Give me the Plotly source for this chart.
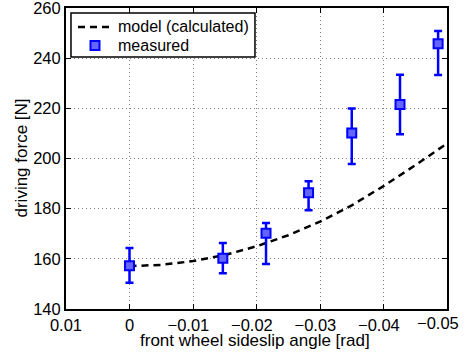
import plotly.graph_objects as go

# Model (calculated) curve
model_x = [0.0, -0.005, -0.01, -0.015, -0.02, -0.025, -0.03, -0.035, -0.04, -0.045, -0.05]
model_y = [157.1, 157.6, 159.1, 161.5, 165.0, 169.4, 174.8, 181.3, 189.0, 197.3, 206.0]

# Measured points with error bars
meas_x = [0.0, -0.0147, -0.0215, -0.0282, -0.035, -0.0426, -0.0486]
meas_y = [157.2, 160.2, 170.2, 186.3, 210.2, 221.5, 245.7]
err_hi = [164.3, 166.3, 174.3, 190.9, 219.9, 233.4, 250.8]
err_lo = [150.5, 154.3, 157.9, 179.4, 197.8, 209.7, 233.3]

x_ticks = [0.01, 0, -0.01, -0.02, -0.03, -0.04, -0.05]
x_ticktext = ["0.01", "0", "\u22120.01", "\u22120.02", "\u22120.03", "\u22120.04", "\u22120.05"]
y_ticks = [140, 160, 180, 200, 220, 240, 260]

legend_labels = ["model (calculated)", "measured"]
x_title = "front wheel sideslip angle [rad]"
y_title = "driving force [N]"

FONT = "Liberation Sans, Arial, Helvetica, sans-serif"
BLUE = "rgb(0,0,255)"
FILL = "rgb(100,100,255)"
FS = "\u2007"  # figure space: shifts negative labels left like the original

# Axis tick texts: negative labels padded; the last one drawn as annotation so it stays inside
shown_ticktext = [t + FS if t.startswith("\u2212") else t for t in x_ticktext]
shown_ticktext[-1] = ""

fig = go.Figure()
fig.add_trace(go.Scatter(
    x=model_x, y=model_y, mode="lines", name=legend_labels[0],
    line=dict(color="black", width=2.5, dash="7px,5px"), showlegend=False,
))
fig.add_trace(go.Scatter(
    x=meas_x, y=meas_y, mode="markers", name=legend_labels[1],
    marker=dict(symbol="square", size=9, color=FILL, line=dict(color=BLUE, width=2)),
    error_y=dict(type="data", symmetric=False,
                 array=[h - m for h, m in zip(err_hi, meas_y)],
                 arrayminus=[m - l for m, l in zip(meas_y, err_lo)],
                 color=BLUE, thickness=2.5, width=4),
    showlegend=False,
))

axis_common = dict(
    showline=True, linecolor="black", linewidth=2, mirror="ticks",
    ticks="inside", ticklen=5, tickcolor="black", tickwidth=1,
    showgrid=True, gridcolor="rgba(0,0,0,0.5)", gridwidth=1, griddash="1px,3px",
    zeroline=False, automargin=False, ticklabeloverflow="allow",
    tickfont=dict(size=16.5, color="black", family=FONT),
)

# Hand-drawn legend box (paper coordinates)
shapes = [
    dict(type="rect", xref="paper", yref="paper", x0=0.0131, x1=0.496, y0=0.837, y1=0.9834,
         fillcolor="white", line=dict(color="black", width=1.5), layer="above"),
    dict(type="line", xref="paper", yref="paper", x0=0.0315, x1=0.1234, y0=0.9369, y1=0.9369,
         line=dict(color="black", width=2.5, dash="7px,5px"), layer="above"),
    dict(type="rect", xref="paper", yref="paper", xsizemode="pixel", ysizemode="pixel",
         xanchor=0.0761, yanchor=0.8754, x0=-4.5, x1=4.5, y0=-4.5, y1=4.5,
         fillcolor=FILL, line=dict(color=BLUE, width=2), layer="above"),
]
annotations = [
    dict(xref="paper", yref="paper", x=0.1312, y=0.9369, xanchor="left", yanchor="middle",
         text=legend_labels[0], showarrow=False, font=dict(size=16, family=FONT, color="black")),
    dict(xref="paper", yref="paper", x=0.1312, y=0.8754, xanchor="left", yanchor="middle",
         text=legend_labels[1], showarrow=False, font=dict(size=16, family=FONT, color="black")),
    dict(xref="paper", yref="paper", x=0.497, y=0, yshift=-31, xanchor="center", yanchor="middle",
         text=x_title, showarrow=False, font=dict(size=17, family=FONT, color="black")),
    dict(xref="paper", yref="paper", x=0, y=0.5, xshift=-45, xanchor="center", yanchor="middle",
         textangle=-90, text=y_title, showarrow=False,
         font=dict(size=17, family=FONT, color="black")),
    dict(xref="x", yref="paper", x=x_ticks[-1], y=0, yshift=-14, xshift=14,
         xanchor="right", yanchor="middle", text=x_ticktext[-1], showarrow=False,
         font=dict(size=16.5, family=FONT, color="black")),
]

fig.update_layout(
    width=465, height=353,
    margin=dict(l=66, r=18, t=8, b=44),
    paper_bgcolor="white", plot_bgcolor="white",
    font=dict(family=FONT, size=16, color="black"),
    xaxis=dict(range=[0.01, -0.05], tickvals=x_ticks, ticktext=shown_ticktext, **axis_common),
    yaxis=dict(range=[140, 260], tickvals=y_ticks, **axis_common),
    shapes=shapes, annotations=annotations,
    showlegend=False,
)

fig.write_html("out.html", config={"displayModeBar": False},
               post_script="document.body.style.margin='0';")
